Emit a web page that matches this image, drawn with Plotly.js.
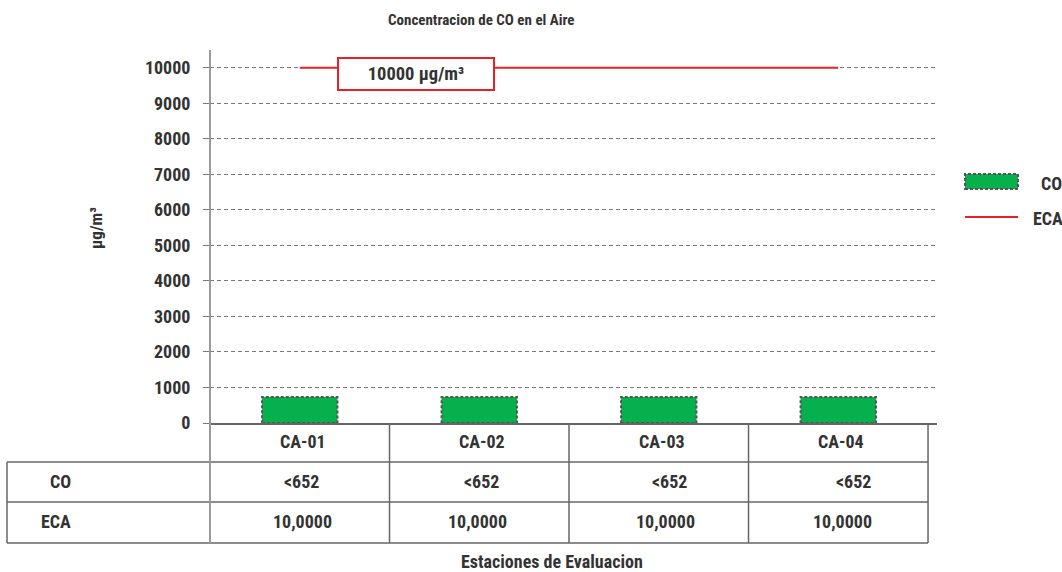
<!DOCTYPE html>
<html><head><meta charset="utf-8">
<script src="https://cdn.plot.ly/plotly-3.0.1.min.js"></script>
<style>html,body{margin:0;padding:0;background:#fff}</style>
</head><body>
<div id="chart" style="width:1062px;height:572px"></div>
<script>
const categories = ['CA-01', 'CA-02', 'CA-03', 'CA-04'];
const coValues = [730, 730, 730, 730];
const ecaValues = [10000, 10000, 10000, 10000];
const coLabels = ['<652', '<652', '<652', '<652'];
const ecaLabels = ['10,0000', '10,0000', '10,0000', '10,0000'];
const yTickVals = [0, 1000, 2000, 3000, 4000, 5000, 6000, 7000, 8000, 9000, 10000];
const ecaBoxLabel = '10000 µg/m³';

const FONT = '"Roboto Condensed", "Liberation Sans Narrow", Roboto, sans-serif';
const TXT = '#333333';
const GREEN = '#06b14d';
const RED = '#e8202a';
const LINE = '#666666';
const barW = 0.42;
// small horizontal text offsets of the table cells (style only)
const coShift = [2, 2, 11, 15];
const ecaShift = [3, -2, 7, 4];

// pixel helpers for layout geometry (plot area 210..937 x 50..423)
const L = 210, R = 937, T = 50, B = 423;
const px = v => (v - L) / (R - L);
const py = v => (B - v) / (B - T);

const traces = [
  {type: 'bar', x: categories, y: coValues, width: barW, name: 'CO',
   marker: {color: GREEN, line: {width: 0}}, showlegend: false, hoverinfo: 'x+y'},
  {type: 'scatter', mode: 'lines', x: categories, y: ecaValues, name: 'ECA',
   line: {color: RED, width: 2}, showlegend: false}
];

const shapes = [];
const annotations = [];
const bold = (size) => ({family: FONT, size: size, color: TXT, weight: 'bold'});

// bar outlines (dotted), from data
coValues.forEach((v, i) => {
  shapes.push({type: 'rect', xref: 'x', yref: 'y', x0: i - barW / 2, x1: i + barW / 2, y0: 0, y1: v,
    line: {color: '#555', width: 2, dash: '3px,2px'}});
});

// table lines
const rowY = [py(462), py(502), py(543)];
rowY.forEach(y => shapes.push({type: 'line', xref: 'paper', yref: 'paper', x0: px(7), x1: px(928), y0: y, y1: y, line: {color: LINE, width: 1.5}}));
shapes.push({type: 'line', xref: 'paper', yref: 'paper', x0: px(7), x1: px(7), y0: py(462), y1: py(543), line: {color: LINE, width: 1.5}});
shapes.push({type: 'line', xref: 'paper', yref: 'paper', x0: 0, x1: 0, y0: 1, y1: py(543), line: {color: '#9a9a9a', width: 2}});
for (let i = 0; i < categories.length; i++) {
  shapes.push({type: 'line', xref: 'x', yref: 'paper', x0: i + 0.5, x1: i + 0.5, y0: 0, y1: py(543), line: {color: LINE, width: 1.5}});
}

// table text
categories.forEach((c, i) => {
  annotations.push({x: c, xref: 'x', yref: 'paper', y: py(441), xshift: 3, text: c, showarrow: false, font: bold(18), yanchor: 'middle'});
  annotations.push({x: c, xref: 'x', yref: 'paper', y: py(481), xshift: coShift[i], text: coLabels[i], showarrow: false, font: bold(18), yanchor: 'middle'});
  annotations.push({x: c, xref: 'x', yref: 'paper', y: py(521), xshift: ecaShift[i], text: ecaLabels[i], showarrow: false, font: bold(18), yanchor: 'middle'});
});
annotations.push({x: px(73), xref: 'paper', yref: 'paper', y: py(481), text: 'CO', xanchor: 'right', showarrow: false, font: bold(18), yanchor: 'middle'});
annotations.push({x: px(73), xref: 'paper', yref: 'paper', y: py(521), text: 'ECA', xanchor: 'right', showarrow: false, font: bold(18), yanchor: 'middle'});

// titles
annotations.push({x: px(481), xref: 'paper', yref: 'paper', y: py(20), text: 'Concentracion de CO en el Aire', showarrow: false, font: bold(15), yanchor: 'middle'});
annotations.push({x: px(552), xref: 'paper', yref: 'paper', y: py(561), text: 'Estaciones de Evaluacion', showarrow: false, font: bold(18), yanchor: 'middle'});
annotations.push({x: px(96), xref: 'paper', yref: 'paper', y: py(228), text: 'µg/m³', textangle: -90, showarrow: false, font: bold(17), xanchor: 'center', yanchor: 'middle'});

// ECA label box
annotations.push({x: 0.65, xref: 'x', y: ecaValues[0], yref: 'y', yshift: -6, text: ecaBoxLabel, showarrow: false,
  font: bold(18.5), bgcolor: '#ffffff', bordercolor: RED, borderwidth: 2, borderpad: 4, width: 146});

// legend
shapes.push({type: 'rect', xref: 'paper', yref: 'paper', x0: px(965), x1: px(1018), y0: py(189), y1: py(174), fillcolor: GREEN, line: {color: '#555', width: 2, dash: '3px,2px'}});
shapes.push({type: 'line', xref: 'paper', yref: 'paper', x0: px(965), x1: px(1018), y0: py(217), y1: py(217), line: {color: RED, width: 2}});
annotations.push({x: px(1039), xref: 'paper', yref: 'paper', y: py(183), text: 'CO', xanchor: 'left', showarrow: false, font: bold(18), yanchor: 'middle'});
annotations.push({x: px(1031), xref: 'paper', yref: 'paper', y: py(218), text: 'ECA', xanchor: 'left', showarrow: false, font: bold(18), yanchor: 'middle'});

const layout = {
  width: 1062, height: 572,
  margin: {l: L, r: 1062 - R, t: T, b: 572 - B, pad: 0},
  paper_bgcolor: '#fff', plot_bgcolor: '#fff',
  showlegend: false,
  xaxis: {type: 'category', range: [-0.5, 3.55], showticklabels: false, ticks: '', showgrid: false,
    showline: true, linecolor: LINE, linewidth: 1.5, zeroline: false, fixedrange: true},
  yaxis: {range: [0, 10500], tickvals: yTickVals, ticktext: yTickVals.map(String), ticks: 'outside', ticklen: 6, tickcolor: '#777',
    tickfont: bold(18), ticklabelstandoff: 9, showgrid: true, gridcolor: '#777', griddash: '4px,3px', gridwidth: 1,
    showline: false, zeroline: false, fixedrange: true},
  shapes: shapes, annotations: annotations
};

Plotly.newPlot('chart', traces, layout, {displayModeBar: false, staticPlot: true});
</script>
</body></html>
